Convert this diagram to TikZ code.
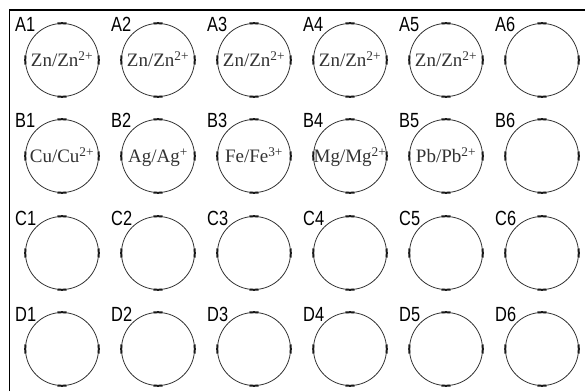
\documentclass[tikz,border=0pt]{standalone}
\usepackage{fontspec}
\setmainfont{Liberation Serif}
\newfontfamily\estrecha[FakeStretch=0.8]{Liberation Sans}

\begin{document}
\begin{tikzpicture}[
			x=1pt, y=1pt,
			pozo/.style = {
				circle,
				draw=black!80,
				line width=0.8pt,
				minimum size=73pt,
				inner sep=0pt
			},
			marca/.style = {line width=2pt, black!90},
			etiqueta/.style = {anchor=base west, inner sep=0pt, font=\estrecha\fontsize{20.5}{20.5}\selectfont},
			contenido/.style = {anchor=base, inner sep=0pt, text=black!80, font=\fontsize{19}{19}\selectfont}
			]
			
			\useasboundingbox (0,0) rectangle (585,391);
			\fill[white] (0,0) rectangle (585,391);
			
			% marco de la placa
			\draw[line width=1.6pt] (9.5,0) -- (9.5,381) -- (585,381);
			
			% pozos con sus marcas y etiquetas
			\foreach \fila/\y in {A/331, B/235, C/138, D/42} {
				\foreach \col [evaluate=\col as \x using {62+96*(\col-1)}] in {1,...,6} {
					\node[pozo] (\fila\col) at (\x,\y) {};
					\foreach \a in {0,90,180,270}
						\draw[marca] ([shift={({\a-7}:36.8)}]\fila\col.center) arc[start angle=\a-7, end angle=\a+7, radius=36.8];
					\node[etiqueta] (l\fila\col) at ([shift={(-47,28)}]\fila\col.center) {\fila\col};
				}
			}
			
			\node[contenido] (tA1) at ([yshift=-7]A1.center) {Zn/Zn\textsuperscript{2+}};
			\node[contenido] (tA2) at ([yshift=-7]A2.center) {Zn/Zn\textsuperscript{2+}};
			\node[contenido] (tA3) at ([yshift=-7]A3.center) {Zn/Zn\textsuperscript{2+}};
			\node[contenido] (tA4) at ([yshift=-7]A4.center) {Zn/Zn\textsuperscript{2+}};
			\node[contenido] (tA5) at ([yshift=-7]A5.center) {Zn/Zn\textsuperscript{2+}};
			
			\node[contenido] (tB1) at ([yshift=-7]B1.center) {Cu/Cu\textsuperscript{2+}};
			\node[contenido] (tB2) at ([yshift=-7]B2.center) {Ag/Ag\textsuperscript{+}};
			\node[contenido] (tB3) at ([yshift=-7]B3.center) {Fe/Fe\textsuperscript{3+}};
			\node[contenido] (tB4) at ([yshift=-7]B4.center) {Mg/Mg\textsuperscript{2+}};
			\node[contenido] (tB5) at ([yshift=-7]B5.center) {Pb/Pb\textsuperscript{2+}};
			
		\end{tikzpicture}
\end{document}
